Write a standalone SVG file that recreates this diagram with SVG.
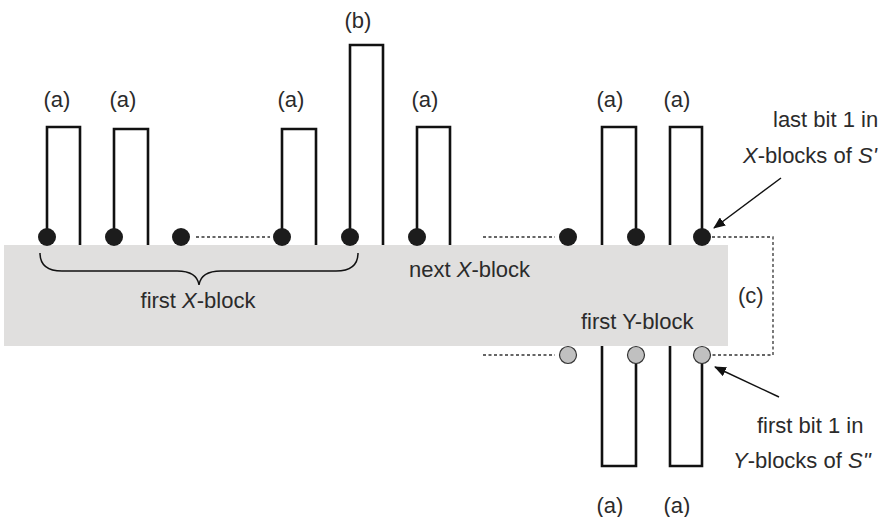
<svg xmlns="http://www.w3.org/2000/svg" width="886" height="517" viewBox="0 0 886 517">
<style>
text{font-family:"Liberation Sans",Arial,sans-serif;font-size:22px;fill:#2b2b2b}
.m{text-anchor:middle}
.i{font-style:italic}
.p{fill:none;stroke:#111;stroke-width:2.6}
.d{fill:none;stroke:#333;stroke-width:1.3;stroke-dasharray:3 2.5}
.b{fill:#1c1c1c}
.g{fill:#c0c0c0;stroke:#333;stroke-width:1.2}
.a{fill:none;stroke:#111;stroke-width:1.5}
</style>
<defs>
<marker id="ah" markerWidth="12" markerHeight="10" refX="11" refY="5" orient="auto" markerUnits="userSpaceOnUse">
<path d="M0,0 L12,5 L0,10 Z" fill="#111"/>
</marker>
</defs>
<rect id="block" x="4" y="245" width="724" height="101" fill="#e0dfde"/>
<g id="connectors">
<path class="d" d="M196,237 H270"/>
<path class="d" d="M483,237 H555"/>
<path class="d" d="M712,237 H773 V355 H712"/>
<path class="d" d="M483,355 H555"/>
<path class="a" d="M781,178 L714,228" marker-end="url(#ah)"/>
<path class="a" d="M779,397 L715,367" marker-end="url(#ah)"/>
<path class="a" d="M40,253 Q40,271 62,271 L177,271 Q197,271 199,285 Q201,271 221,271 L336,271 Q358,271 358,253"/>
</g>
<g id="pulse1"><path class="p" d="M47,237 V127 H80 V245"/><circle class="b" cx="47" cy="237" r="9"/><text class="m" x="57" y="107">(a)</text></g>
<g id="pulse2"><path class="p" d="M114,237 V129 H148 V245"/><circle class="b" cx="114" cy="237" r="9"/><text class="m" x="123" y="107">(a)</text></g>
<g id="dot3"><circle class="b" cx="181" cy="237" r="9"/></g>
<g id="pulse3"><path class="p" d="M282,237 V129 H316 V245"/><circle class="b" cx="282" cy="237" r="9"/><text class="m" x="291" y="107">(a)</text></g>
<g id="pulseb"><path class="p" d="M350,237 V45 H383 V245"/><circle class="b" cx="350" cy="237" r="9"/><text class="m" x="358" y="28">(b)</text></g>
<g id="pulse5"><path class="p" d="M417,237 V127 H450 V245"/><circle class="b" cx="417" cy="237" r="9"/><text class="m" x="425" y="107">(a)</text></g>
<g id="dot6"><circle class="b" cx="568" cy="237" r="9"/></g>
<g id="pulse7"><path class="p" d="M602,245 V127 H636 V237"/><circle class="b" cx="636" cy="237" r="9"/><text class="m" x="610" y="107">(a)</text></g>
<g id="pulse8"><path class="p" d="M670,245 V127 H702 V237"/><circle class="b" cx="702" cy="237" r="9"/><text class="m" x="677" y="107">(a)</text></g>
<g id="ydot1"><circle class="g" cx="568" cy="355" r="8.5"/></g>
<g id="ypulse1"><path class="p" d="M602,346 V466 H636 V355"/><circle class="g" cx="636" cy="355" r="8.5"/><text class="m" x="610" y="513">(a)</text></g>
<g id="ypulse2"><path class="p" d="M670,346 V466 H702 V355"/><circle class="g" cx="702" cy="355" r="8.5"/><text class="m" x="677" y="513">(a)</text></g>
<g id="labels">
<text class="m" x="198" y="308">first <tspan class="i">X</tspan>-block</text>
<text x="409" y="277">next <tspan class="i">X</tspan>-block</text>
<text x="581" y="329">first Y-block</text>
<text x="738" y="303">(c)</text>
<text x="773" y="127">last bit 1 in</text>
<text x="743" y="163"><tspan class="i">X</tspan>-blocks of <tspan class="i">S'</tspan></text>
<text x="757" y="433">first bit 1 in</text>
<text x="733" y="468"><tspan class="i">Y</tspan>-blocks of <tspan class="i">S''</tspan></text>
</g>
</svg>
